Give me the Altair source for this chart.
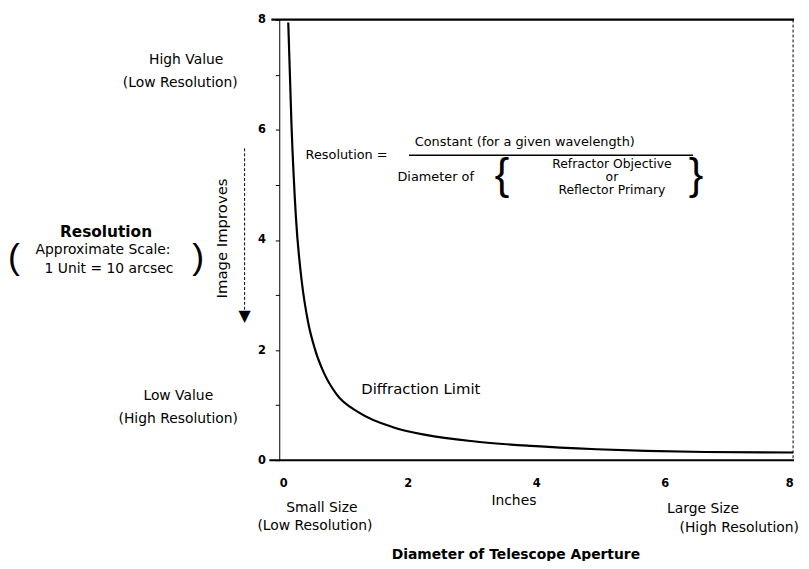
import altair as alt
import pandas as pd

# ---- data ----
curve_x = [0.14, 0.19, 0.26, 0.35, 0.45, 0.56, 0.69, 0.89, 1.25, 1.77, 2.28, 3.05, 3.92, 4.94, 5.71, 6.63, 8.0]
curve_y = [7.95, 6.1, 4.4, 3.25, 2.5, 2.0, 1.6, 1.2, 0.86, 0.6, 0.46, 0.34, 0.26, 0.2, 0.17, 0.15, 0.14]
y_ticks = [0, 1, 2, 3, 4, 5, 6, 7, 8]
x_ticks = [0, 2, 4, 6, 8]

W, H = 519, 445
OX, OY = 282, 17  # plot origin on the page
FONT = "DejaVu Sans"

curve_df = pd.DataFrame({"diameter": curve_x, "resolution": curve_y})

xs = alt.Scale(domain=[0, 8], nice=False)
ys = alt.Scale(domain=[0, 8], nice=False)

curve = alt.Chart(curve_df).mark_line(
    color="black", strokeWidth=2.2, interpolate="monotone"
).encode(
    x=alt.X("diameter:Q", scale=xs,
            axis=alt.Axis(values=x_ticks, title=None, domain=False, ticks=False,
                          grid=False, labelPadding=18, labelFont=FONT,
                          labelFontSize=11.5, labelFontWeight="bold", labelColor="black")),
    y=alt.Y("resolution:Q", scale=ys,
            axis=alt.Axis(values=y_ticks, title=None, grid=False, domainColor="black",
                          domainWidth=1, tickColor="black", tickSize=4, labelPadding=10,
                          labelExpr="datum.value % 2 == 0 ? datum.label : ''",
                          labelFont=FONT, labelFontSize=11.5, labelFontWeight="bold",
                          labelColor="black")),
)

one = pd.DataFrame({"a": [0]})


def rule(x1, y1, x2, y2, width=1, dash=None):
    kw = dict(color="black", strokeWidth=width)
    if dash:
        kw["strokeDash"] = dash
    return alt.Chart(one).mark_rule(**kw).encode(
        x=alt.value(x1 - OX), x2=alt.value(x2 - OX),
        y=alt.value(y1 - OY), y2=alt.value(y2 - OY))


def label(text, x, y, size=14, bold=False, angle=0, align="center", font=FONT):
    kw = dict(text=text, fontSize=size, font=font, color="black", align=align,
              baseline="middle", fontWeight="bold" if bold else "normal")
    if angle:
        kw["angle"] = angle
    return alt.Chart(one).mark_text(**kw).encode(
        x=alt.value(x - OX), y=alt.value(y - OY))


layers = [
    curve,
    rule(274, 17, 802, 17, width=2.2),          # top border
    rule(272, 462, 802, 462, width=2.2),        # bottom (zero) line
    rule(801, 17, 801, 462, width=1, dash=[3, 2]),  # right border
    rule(247, 147, 247, 310, width=1, dash=[3, 2]),  # "image improves" arrow shaft
    rule(413, 154, 700, 154, width=1.5),        # fraction bar
    label("High Value", 188, 58),
    label("(Low Resolution)", 182, 81),
    label("Resolution", 107, 232, size=15.5, bold=True),
    label("Approximate Scale:", 104, 250, size=14),
    label("1 Unit = 10 arcsec", 110, 269, size=14),
    label("(", 14, 258, size=36, font="Liberation Sans"),
    label(")", 200, 258, size=36, font="Liberation Sans"),
    label("Image Improves", 224, 238, size=15, angle=270),
    label("▼", 247, 316, size=16),
    label("Low Value", 180, 397),
    label("(High Resolution)", 180, 420),
    label("Resolution =", 350, 154, size=13),
    label("Constant (for a given wavelength)", 530, 141, size=13),
    label("Diameter of", 440, 176, size=13),
    label("{", 507, 175, size=44, font="Liberation Sans"),
    label("}", 703, 175, size=44, font="Liberation Sans"),
    label("Refractor Objective", 618, 163, size=12.5),
    label("or", 618, 176, size=12.5),
    label("Reflector Primary", 618, 189, size=12.5),
    label("Diffraction Limit", 425, 390, size=15),
    label("Inches", 519, 503),
    label("Small Size", 325, 510),
    label("(Low Resolution)", 318, 528),
    label("Large Size", 710, 511),
    label("(High Resolution)", 807, 530, align="right"),
    label("Diameter  of  Telescope  Aperture", 521, 558, size=14, bold=True),
]

chart = alt.layer(*layers).properties(
    width=W, height=H,
    autosize=alt.AutoSizeParams(type="none"),
    padding={"left": OX - 8, "top": OY - 8, "right": 8, "bottom": 99},
    background="white",
).configure_view(stroke=None)

chart.save("out.html", embed_options={"renderer": "svg", "actions": False})
